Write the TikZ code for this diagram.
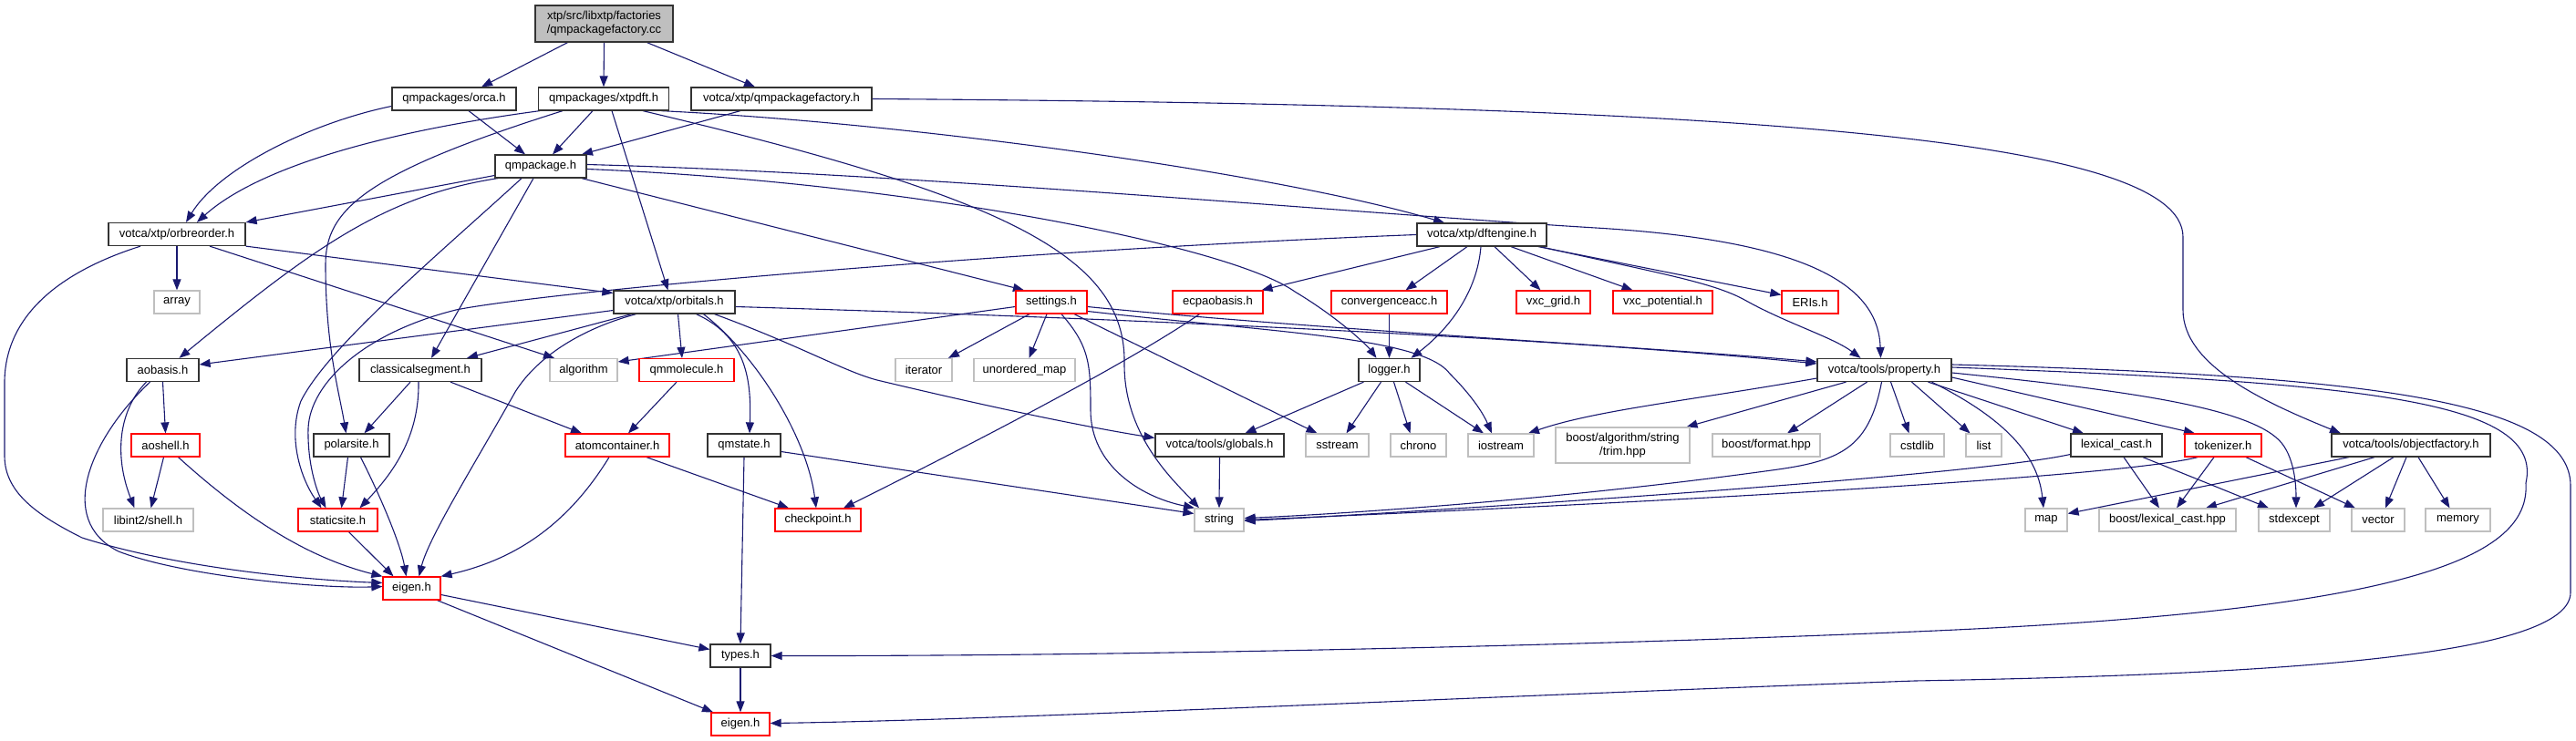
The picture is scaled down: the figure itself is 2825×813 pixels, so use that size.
\documentclass[tikz,border=0pt]{standalone}
\usepackage{fontspec}
\setmainfont{Liberation Sans}
\usetikzlibrary{arrows.meta}
\pgfdeclarelayer{bg}
\pgfsetlayers{bg,main}
\definecolor{edgec}{HTML}{191970}
\definecolor{grayb}{HTML}{BFBFBF}
\definecolor{redb}{HTML}{FF0000}
\begin{document}
\begin{tikzpicture}[x=1pt,y=-1pt,
  nb/.style={rectangle, inner sep=0pt, minimum height=25pt, fill=white, line width=1.25pt, font=\fontsize{13}{15}\selectfont, align=center},
  bk/.style={nb, draw=black!80},
  gr/.style={nb, draw=grayb},
  rd/.style={nb, draw=redb},
  ed/.style={draw=edgec, line width=1.1pt, -{Triangle[length=12pt,width=9pt]}}]
\useasboundingbox (0,0) rectangle (2825,813);
% nodes
\node[bk, fill=grayb, minimum width=151pt, minimum height=40pt] (root) at (662.5,26) {xtp/src/libxtp/factories\\/qmpackagefactory.cc};
\node[bk, minimum width=136pt] (orca) at (498,108.5) {qmpackages/orca.h};
\node[bk, minimum width=143pt] (xtpdft) at (662,108.5) {qmpackages/xtpdft.h};
\node[bk, minimum width=198pt] (qmf) at (857,108.5) {votca/xtp/qmpackagefactory.h};
\node[bk, minimum width=100pt] (qmp) at (593,182.5) {qmpackage.h};
\node[bk, minimum width=150pt] (orbre) at (194,257) {votca/xtp/orbreorder.h};
\node[gr, minimum width=50pt] (array) at (194,331.5) {array};
\node[bk, minimum width=133pt] (orbit) at (739.5,331.5) {votca/xtp/orbitals.h};
\node[bk, minimum width=79pt] (aobasis) at (178.5,406) {aobasis.h};
\node[bk, minimum width=134pt] (cseg) at (461,406) {classicalsegment.h};
\node[gr, minimum width=74pt] (algo) at (640,406) {algorithm};
\node[rd, minimum width=104pt] (qmmol) at (753,406) {qmmolecule.h};
\node[rd, minimum width=78pt] (settings) at (1153,331.5) {settings.h};
\node[rd, minimum width=99pt] (ecpa) at (1335.5,331.5) {ecpaobasis.h};
\node[gr, minimum width=62pt] (iter) at (1013,406) {iterator};
\node[gr, minimum width=111pt] (umap) at (1123.5,406) {unordered\_map};
\node[bk, minimum width=142pt] (dft) at (1625,257.5) {votca/xtp/dftengine.h};
\node[rd, minimum width=127pt] (conv) at (1523.5,331.5) {convergenceacc.h};
\node[rd, minimum width=81pt] (vxcg) at (1703.5,331.5) {vxc\_grid.h};
\node[rd, minimum width=109pt] (vxcp) at (1823.5,331.5) {vxc\_potential.h};
\node[rd, minimum width=62pt] (eris) at (1985,331.5) {ERIs.h};
\node[bk, minimum width=67pt] (logger) at (1523.5,406) {logger.h};
\node[bk, minimum width=147pt] (prop) at (2066.5,406) {votca/tools/property.h};
\node[bk, minimum width=100pt] (lex) at (2321,488.5) {lexical\_cast.h};
\node[rd, minimum width=84pt] (tok) at (2438,488.5) {tokenizer.h};
\node[bk, minimum width=174pt] (objf) at (2644,488.5) {votca/tools/objectfactory.h};
\node[gr, minimum width=39pt] (list) at (2175.5,488.5) {list};
\node[gr, minimum width=59pt] (cstd) at (2102.5,488.5) {cstdlib};
\node[gr, minimum width=46pt] (map) at (2244,570.5) {map};
\node[gr, minimum width=150pt] (blex) at (2377,570.5) {boost/lexical\_cast.hpp};
\node[gr, minimum width=78pt] (stdex) at (2516,570.5) {stdexcept};
\node[gr, minimum width=58pt] (vector) at (2608,570.5) {vector};
\node[gr, minimum width=71pt] (memory) at (2695.5,570.5) {memory};
\node[gr, minimum width=69pt] (sstream) at (1466.5,488.5) {sstream};
\node[gr, minimum width=61pt] (chrono) at (1555.5,488.5) {chrono};
\node[gr, minimum width=72pt] (iostream) at (1646,488.5) {iostream};
\node[gr, minimum width=147pt, minimum height=39pt] (trim) at (1779.5,488.5) {boost/algorithm/string\\/trim.hpp};
\node[gr, minimum width=118pt] (bfmt) at (1937,488.5) {boost/format.hpp};
\node[bk, minimum width=80pt] (qmstate) at (816,488.5) {qmstate.h};
\node[bk, minimum width=141pt] (globals) at (1337.5,488.5) {votca/tools/globals.h};
\node[rd, minimum width=94pt] (checkpoint) at (897,570.5) {checkpoint.h};
\node[gr, minimum width=54pt] (string) at (1337,570.5) {string};
\node[bk, minimum width=66pt] (types) at (812,719.5) {types.h};
\node[rd, minimum width=64pt] (eigenB) at (812,794.5) {eigen.h};
\node[rd, minimum width=75pt] (aoshell) at (181.5,488.5) {aoshell.h};
\node[bk, minimum width=83pt] (polar) at (385.5,488.5) {polarsite.h};
\node[rd, minimum width=114pt] (atomc) at (677,488.5) {atomcontainer.h};
\node[gr, minimum width=99pt] (libint) at (162.5,570.5) {libint2/shell.h};
\node[rd, minimum width=87pt] (static) at (370.5,570.5) {staticsite.h};
\node[rd, minimum width=63pt] (eigenM) at (451.5,645.5) {eigen.h};
% edges
\begin{pgfonlayer}{bg}
\draw[ed] ([xshift=-40pt]root.south) -- ([xshift=30pt]orca.north);
\draw[ed] (root.south) -- (xtpdft.north);
\draw[ed] ([xshift=47pt]root.south) -- ([xshift=-29pt]qmf.north);
\draw[ed] ([yshift=-8pt]orca.west) .. controls (340,135) and (240,185) .. ([xshift=10pt]orbre.north);
\draw[ed] ([xshift=16pt]orca.south) -- ([xshift=-17pt]qmp.north);
\draw[ed] ([xshift=-70pt]xtpdft.south) .. controls (380,150) and (270,195) .. ([xshift=22pt]orbre.north);
\draw[ed] ([xshift=-45pt]xtpdft.south) .. controls (400,190) and (357,230) .. (357,290) .. controls (357,380) and (372,430) .. ([xshift=-6pt]polar.north);
\draw[ed] ([xshift=-12pt]xtpdft.south) -- ([xshift=13pt]qmp.north);
\draw[ed] ([xshift=9pt]xtpdft.south) -- ([xshift=-7pt]orbit.north);
\draw[ed] ([xshift=63pt]xtpdft.south) .. controls (1000,135) and (1400,190) .. ([xshift=-41pt]dft.north);
\draw[ed] ([xshift=43pt]xtpdft.south) .. controls (1100,215) and (1236,280) .. (1233,400) .. controls (1233,480) and (1290,530) .. ([xshift=-22pt]string.north);
\draw[ed] ([xshift=-45pt]qmf.south) -- ([xshift=45pt]qmp.north);
\draw[ed] (qmf.east) .. controls (1900,115) and (2394,150) .. (2394,260) -- (2394,340) .. controls (2394,400) and (2480,440) .. ([xshift=-77pt]objf.north);
\draw[ed] ([yshift=-10pt]qmp.west) -- (orbre.north east);
\draw[ed] ([xshift=-47pt]qmp.south) .. controls (420,215) and (340,275) .. ([xshift=18pt]aobasis.north);
\draw[ed] ([xshift=-21pt]qmp.south) .. controls (480,280) and (360,380) .. (330,440) .. controls (315,480) and (330,525) .. ([xshift=-18pt]static.north);
\draw[ed] (dft.west) .. controls (1100,275) and (600,320) .. (500,340) .. controls (400,365) and (340,420) .. (338,470) .. controls (337,510) and (348,540) .. ([xshift=-13pt]static.north);
\draw[ed] ([xshift=-8pt]qmp.south) -- ([xshift=12pt]cseg.north);
\draw[ed] ([xshift=45pt]qmp.south) -- ([xshift=-30pt]settings.north);
\draw[ed] ([yshift=2pt]qmp.east) .. controls (1000,190) and (1500,235) .. (1750,250) .. controls (2000,265) and (2060,320) .. ([xshift=-4pt]prop.north);
\draw[ed] ([yshift=-3pt]qmp.east) .. controls (1000,200) and (1350,270) .. (1420,320) .. controls (1470,350) and (1500,380) .. ([xshift=-14pt]logger.north);
\draw[ed] (orbre.south) -- (array.north);
\draw[ed] (orbre.south east) -- ([yshift=10pt]orbit.west);
\draw[ed] ([xshift=36pt]orbre.south) -- ([xshift=-32pt]algo.north);
\draw[ed] ([xshift=-40pt]orbre.south) .. controls (60,300) and (5,350) .. (5,420) -- (5,500) .. controls (5,540) and (40,565) .. (90,590) .. controls (200,625) and (350,637) .. ([yshift=6pt]eigenM.west);
\draw[ed] (aobasis.south) -- (aoshell.north);
\draw[ed] ([xshift=-18pt]aobasis.south) .. controls (130,450) and (125,500) .. ([xshift=-15pt]libint.north);
\draw[ed] ([xshift=-14pt]aobasis.south) .. controls (100,480) and (60,570) .. (130,605) .. controls (200,632) and (350,646) .. ([yshift=2pt]eigenM.west);
\draw[ed] ([xshift=-2pt]aoshell.south) -- ([xshift=3pt]libint.north);
\draw[ed] ([xshift=14pt]aoshell.south) .. controls (260,560) and (330,610) .. (eigenM.north west);
\draw[ed] ([xshift=-4pt]polar.south) -- ([xshift=4pt]static.north);
\draw[ed] ([xshift=10pt]polar.south) .. controls (420,550) and (440,600) .. ([xshift=-6pt]eigenM.north);
\draw[ed] ([xshift=12pt]static.south) -- ([xshift=-20pt]eigenM.north);
\draw[ed] ([xshift=-11pt]cseg.south) -- ([xshift=14pt]polar.north);
\draw[ed] ([xshift=-2pt]cseg.south) .. controls (460,480) and (430,520) .. ([xshift=24pt]static.north);
\draw[ed] ([xshift=33pt]cseg.south) -- ([xshift=-39pt]atomc.north);
\draw[ed] ([yshift=-9pt]orbit.west) -- ([yshift=6pt]aobasis.east);
\draw[ed] ([xshift=-47pt]orbit.south) -- ([xshift=51pt]cseg.north);
\draw[ed] ([xshift=-42pt]orbit.south) .. controls (640,360) and (590,390) .. (565,430) .. controls (520,510) and (470,590) .. ([xshift=8pt]eigenM.north);
\draw[ed] ([xshift=4pt]orbit.south) -- ([xshift=-5pt]qmmol.north);
\draw[ed] ([xshift=24pt]orbit.south) .. controls (820,370) and (824,420) .. ([xshift=6pt]qmstate.north);
\draw[ed] ([xshift=32pt]orbit.south) .. controls (830,390) and (885,480) .. ([xshift=-2pt]checkpoint.north);
\draw[ed] ([xshift=44pt]orbit.south) .. controls (880,380) and (930,410) .. (966,418) .. controls (1100,450) and (1200,470) .. ([yshift=8pt]globals.west);
\draw[ed] ([yshift=-5pt]orbit.east) .. controls (1200,348) and (1700,370) .. ([yshift=7pt]prop.west);
\draw[ed] ([xshift=-11pt]qmmol.south) -- ([xshift=12pt]atomc.north);
\draw[ed] ([xshift=-9pt]atomc.south) .. controls (620,580) and (560,615) .. (eigenM.north east);
\draw[ed] ([xshift=32pt]atomc.south) -- ([xshift=-32pt]checkpoint.north);
\draw[ed] (qmstate.south) -- (types.north);
\draw[ed] ([yshift=-7pt]qmstate.east) -- ([yshift=7pt]string.west);
\draw[ed] ([yshift=-5pt]settings.west) -- ([yshift=9pt]algo.east);
\draw[ed] ([xshift=-24pt]settings.south) -- ([xshift=27pt]iter.north);
\draw[ed] ([xshift=-5pt]settings.south) -- ([xshift=5pt]umap.north);
\draw[ed] ([xshift=11pt]settings.south) .. controls (1195,380) and (1196,400) .. (1196,450) .. controls (1196,510) and (1250,545) .. ([xshift=-27pt]string.north);
\draw[ed] ([xshift=25pt]settings.south) -- ([xshift=-22pt]sstream.north);
\draw[ed] ([yshift=-5pt]settings.east) .. controls (1450,362) and (1800,380) .. ([yshift=9pt]prop.west);
\draw[ed] ([yshift=-10pt]settings.east) .. controls (1400,365) and (1560,370) .. (1590,410) .. controls (1610,430) and (1625,450) .. ([xshift=-10pt]iostream.north);
\draw[ed] ([xshift=-20pt]ecpa.south) .. controls (1220,410) and (1000,520) .. ([xshift=28pt]checkpoint.north);
\draw[ed] ([xshift=-46pt]dft.south) -- ([xshift=48pt]ecpa.north);
\draw[ed] ([xshift=-16pt]dft.south) -- ([xshift=18pt]conv.north);
\draw[ed] ([xshift=-1pt]dft.south) .. controls (1620,320) and (1590,360) .. ([xshift=24pt]logger.north);
\draw[ed] ([xshift=14pt]dft.south) -- ([xshift=-14pt]vxcg.north);
\draw[ed] ([xshift=32pt]dft.south) -- ([xshift=-33pt]vxcp.north);
\draw[ed] ([xshift=62pt]dft.south) -- ([yshift=8pt]eris.west);
\draw[ed] ([xshift=64pt]dft.south) .. controls (1820,300) and (1880,310) .. (1915,330) .. controls (1960,355) and (2010,370) .. ([xshift=-26pt]prop.north);
\draw[ed] (conv.south) -- (logger.north);
\draw[ed] ([xshift=-28pt]logger.south) -- ([xshift=28pt]globals.north);
\draw[ed] ([xshift=-9pt]logger.south) -- ([xshift=10pt]sstream.north);
\draw[ed] ([xshift=5pt]logger.south) -- ([xshift=-9pt]chrono.north);
\draw[ed] ([xshift=18pt]logger.south) -- ([xshift=-19pt]iostream.north);
\draw[ed] (globals.south) -- (string.north);
\draw[ed] ([yshift=-9pt]prop.west) .. controls (1850,440) and (1750,450) .. ([xshift=30pt]iostream.north);
\draw[ed] ([xshift=-42pt]prop.south) -- ([xshift=70pt]trim.north);
\draw[ed] ([xshift=-19pt]prop.south) -- ([xshift=23pt]bfmt.north);
\draw[ed] ([xshift=-3pt]prop.south) .. controls (2050,490) and (2020,505) .. (1950,515) .. controls (1700,550) and (1450,565) .. ([yshift=2pt]string.east);
\draw[ed] ([xshift=7pt]prop.south) -- ([xshift=-9pt]cstd.north);
\draw[ed] ([xshift=30pt]prop.south) -- ([xshift=-15pt]list.north);
\draw[ed] ([xshift=52pt]prop.south) .. controls (2200,460) and (2235,500) .. ([xshift=-3pt]map.north);
\draw[ed] ([xshift=48pt]prop.south) -- ([xshift=-36pt]lex.north);
\draw[ed] ([yshift=-8pt]prop.east) -- ([xshift=-31pt]tok.north);
\draw[ed] ([yshift=-3pt]prop.east) .. controls (2350,430) and (2480,450) .. (2505,490) .. controls (2518,510) and (2518,540) .. ([xshift=2pt]stdex.north);
\draw[ed] ([yshift=3pt]prop.east) .. controls (2600,420) and (2790,440) .. (2770,530) .. controls (2775,610) and (2650,670) .. (2100,693) .. controls (1700,710) and (1200,720) .. (types.east);
\draw[ed] ([yshift=6pt]prop.east) .. controls (2600,412) and (2819,440) .. (2819,533) -- (2819,650) .. controls (2819,720) and (2500,740) .. (2100,747) .. controls (1600,765) and (1100,790) .. ([yshift=1pt]eigenB.east);
\draw[ed] ([xshift=8pt]lex.south) -- ([xshift=-9pt]blex.north);
\draw[ed] ([xshift=29pt]lex.south) -- ([xshift=-28pt]stdex.north);
\draw[ed] ([yshift=-10pt]lex.west) .. controls (2150,525) and (1500,565) .. ([yshift=-1pt]string.east);
\draw[ed] ([xshift=-10pt]tok.south) -- ([xshift=10pt]blex.north);
\draw[ed] ([xshift=25pt]tok.south) -- ([xshift=-25pt]vector.north);
\draw[ed] ([xshift=-28pt]tok.south) .. controls (2300,530) and (1500,565) .. (string.east);
\draw[ed] ([xshift=-68pt]objf.south) -- ([yshift=7pt]map.east);
\draw[ed] ([xshift=-40pt]objf.south) -- ([xshift=42pt]blex.north);
\draw[ed] ([xshift=-19pt]objf.south) -- ([xshift=21pt]stdex.north);
\draw[ed] ([xshift=-5pt]objf.south) -- ([xshift=8pt]vector.north);
\draw[ed] ([xshift=8pt]objf.south) -- ([xshift=-9pt]memory.north);
\draw[ed] ([yshift=-7pt]eigenM.east) -- ([yshift=7pt]types.west);
\draw[ed] ([xshift=28pt]eigenM.south) -- ([xshift=-30pt]eigenB.north);
\draw[ed] (types.south) -- (eigenB.north);
\end{pgfonlayer}
\end{tikzpicture}
\end{document}
